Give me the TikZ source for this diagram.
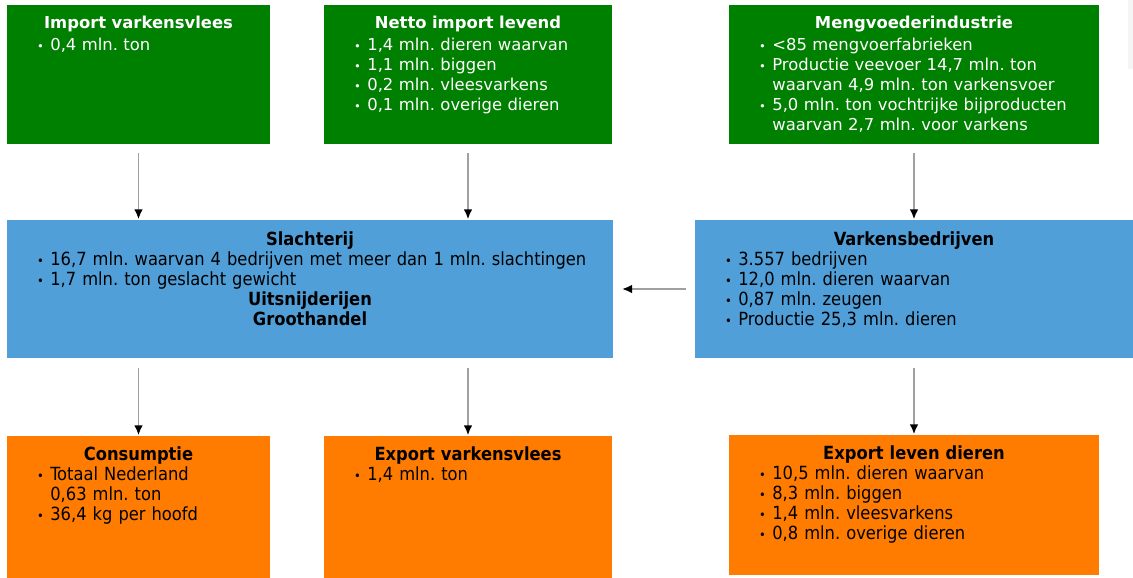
\documentclass[tikz,border=0pt]{standalone}
\usepackage{fontspec}
\usepackage{graphicx}
\setmainfont{DejaVu Sans}
\newfontfamily\condfont{DejaVu Sans Condensed}
\usetikzlibrary{arrows.meta,positioning}
\frenchspacing
\definecolor{boxgreen}{RGB}{0,128,0}
\definecolor{boxblue}{RGB}{80,159,216}
\definecolor{boxorange}{RGB}{255,124,0}
\definecolor{linegray}{RGB}{160,160,160}
\newcommand{\dotmark}{\scalebox{0.7}{\textbullet}}
\newcommand{\itm}[1]{\mbox{\makebox[10pt][l]{\dotmark}#1}\par}
\newcommand{\cnt}[1]{\mbox{\hspace*{10pt}#1}\par}
\newcommand{\ttl}[1]{{\centering\bfseries #1\par}}
\newcommand{\ttlgap}[1]{{\centering\bfseries #1\par}\vspace{1.5pt}}
\tikzset{
  box/.style={anchor=north west, inner sep=0pt, outer sep=0pt},
  greenbox/.style={box, fill=boxgreen},
  bluebox/.style={box, fill=boxblue},
  orangebox/.style={box, fill=boxorange},
  greentext/.style={inner sep=0pt, align=left, text=white,
    font=\fontsize{12.3}{15}\selectfont},
  darktext/.style={inner sep=0pt, align=left, text=black,
    font=\condfont\fontsize{13.6}{15}\selectfont},
  flow/.style={draw=linegray, line width=1.4pt,
    -{Latex[length=7.5pt,width=6.5pt,color=black]}}
}
\begin{document}
\begin{tikzpicture}[x=0.75pt, y=-0.75pt]
\useasboundingbox (0,0) rectangle (1133,578);
\fill[black!4] (1128,0) rectangle (1133,69);
% top row
\node[greenbox, minimum width=197.25pt, minimum height=104.25pt] (imp) at (7,5) {};
\node[greenbox, minimum width=216pt, minimum height=104.25pt] (netto) at (324,5) {};
\node[greenbox, minimum width=277.5pt, minimum height=104.25pt] (meng) at (729,5) {};
\node[greentext, text width=152.25pt, below=8.25pt of imp.north] (impT) {%
  \ttlgap{Import varkensvlees}
  \itm{0,4 mln. ton}};
\node[greentext, text width=171pt, below=8.25pt of netto.north] (nettoT) {%
  \ttlgap{Netto import levend}
  \itm{1,4 mln. dieren waarvan}
  \itm{1,1 mln. biggen}
  \itm{0,2 mln. vleesvarkens}
  \itm{0,1 mln. overige dieren}};
\node[greentext, text width=232.5pt, below=8.25pt of meng.north] (mengT) {%
  \ttlgap{Mengvoederindustrie}
  \itm{<85 mengvoerfabrieken}
  \itm{Productie veevoer 14,7 mln. ton}
  \cnt{waarvan 4,9 mln. ton varkensvoer}
  \itm{5,0 mln. ton vochtrijke bijproducten}
  \cnt{waarvan 2,7 mln. voor varkens}};
% middle row
\node[bluebox, minimum width=454.5pt, minimum height=103.5pt] (slacht) at (7,220) {};
\node[bluebox, minimum width=328.5pt, minimum height=103.5pt] (varkens) at (695,220) {};
\node[darktext, text width=409.5pt, below=8.5pt of slacht.north] (slachtT) {%
  \ttl{Slachterij}
  \itm{16,7 mln. waarvan 4 bedrijven met meer dan 1 mln. slachtingen}
  \itm{1,7 mln. ton geslacht gewicht}
  \ttl{Uitsnijderijen}
  \ttl{Groothandel}};
\node[darktext, text width=283.5pt, below=8.5pt of varkens.north] (varkensT) {%
  \ttl{Varkensbedrijven}
  \itm{3.557 bedrijven}
  \itm{12,0 mln. dieren waarvan}
  \itm{0,87 mln. zeugen}
  \itm{Productie 25,3 mln. dieren}};
% bottom row
\node[orangebox, minimum width=197.25pt, minimum height=106.5pt] (cons) at (7,436) {};
\node[orangebox, minimum width=216pt, minimum height=106.5pt] (expv) at (324,436) {};
\node[orangebox, minimum width=277.5pt, minimum height=105pt] (expl) at (729,435) {};
\node[darktext, text width=152.25pt, below=7.9pt of cons.north] (consT) {%
  \ttl{Consumptie}
  \itm{Totaal Nederland}
  \cnt{0,63 mln. ton}
  \itm{36,4 kg per hoofd}};
\node[darktext, text width=171pt, below=7.9pt of expv.north] (expvT) {%
  \ttl{Export varkensvlees}
  \itm{1,4 mln. ton}};
\node[darktext, text width=232.5pt, below=7.9pt of expl.north] (explT) {%
  \ttl{Export leven dieren}
  \itm{10,5 mln. dieren waarvan}
  \itm{8,3 mln. biggen}
  \itm{1,4 mln. vleesvarkens}
  \itm{0,8 mln. overige dieren}};
% arrows
\draw[flow, shorten <=6.75pt, shorten >=0.5pt] (imp.south) -- (imp.south |- slacht.north);
\draw[flow, shorten <=6.75pt, shorten >=0.5pt] (netto.south) -- (netto.south |- slacht.north);
\draw[flow, shorten <=6.75pt, shorten >=0.5pt] (meng.south) -- (meng.south |- varkens.north);
\draw[flow, shorten <=6.75pt, shorten >=6.75pt] (varkens.west) -- (slacht.east);
\draw[flow, shorten <=7.5pt, shorten >=0.5pt] (slacht.south -| cons.north) -- (cons.north);
\draw[flow, shorten <=7.5pt, shorten >=0.5pt] (slacht.south -| expv.north) -- (expv.north);
\draw[flow, shorten <=7.5pt, shorten >=0.5pt] (varkens.south -| expl.north) -- (expl.north);
\end{tikzpicture}
\end{document}
